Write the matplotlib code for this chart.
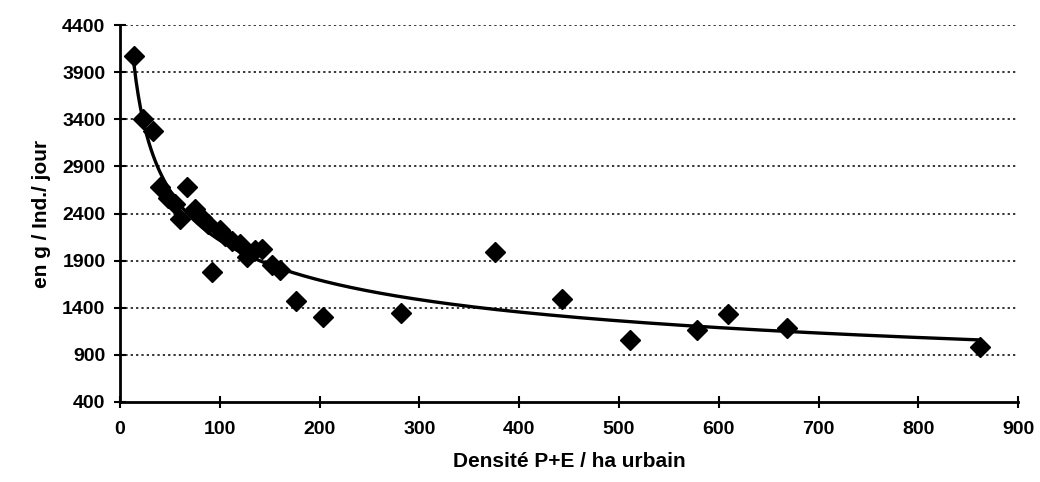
import numpy as np
import matplotlib
matplotlib.use("Agg")
import matplotlib.pyplot as plt

# data
densite = [14, 23, 33, 40, 48, 55, 60, 67, 75, 82, 88, 92, 100, 105, 112, 120,
           127, 135, 142, 152, 160, 176, 203, 282, 376, 443, 511, 578, 609, 668, 862]
dechets = [4070, 3400, 3280, 2680, 2570, 2500, 2340, 2680, 2450, 2350, 2290, 1780,
           2220, 2160, 2110, 2080, 1940, 2010, 2020, 1850, 1800, 1470, 1300, 1340,
           1990, 1490, 1060, 1160, 1330, 1180, 980]
y_ticks = [400, 900, 1400, 1900, 2400, 2900, 3400, 3900, 4400]
x_ticks = [0, 100, 200, 300, 400, 500, 600, 700, 800, 900]

plt.rcParams["font.family"] = ["Liberation Sans", "DejaVu Sans"]

fig = plt.figure(figsize=(10.4, 4.82), dpi=100)
ax = fig.add_axes([0.1154, 0.166, 0.979 - 0.1154, 0.948 - 0.166])

# power trend line (like Excel "puissance"), fitted on the points
b, ln_a = np.polyfit(np.log(densite), np.log(dechets), 1)
xs = np.linspace(min(densite), max(densite), 400)
ax.plot(xs, np.exp(ln_a) * xs ** b, color="black", lw=2.4, zorder=3)

ax.plot(densite, dechets, "D", color="black", markersize=10.5, zorder=4)

ax.set_xlim(0, 900)
ax.set_ylim(400, 4400)
ax.set_xticks(x_ticks)
ax.set_yticks(y_ticks)

for t in y_ticks[1:]:
    ax.axhline(t, color="black", lw=1.1, ls=(0, (1.5, 2)), zorder=1)

for s in ["top", "right"]:
    ax.spines[s].set_visible(False)
ax.spines["left"].set_linewidth(2)
ax.spines["bottom"].set_linewidth(2)

ax.tick_params(axis="both", direction="inout", length=9, width=1.5,
               labelsize=14)
ax.tick_params(axis="x", pad=9)
ax.tick_params(axis="y", pad=6)
for lab in ax.get_xticklabels() + ax.get_yticklabels():
    lab.set_fontweight("bold")

ax.set_xlabel("Densité P+E / ha urbain", fontsize=15, fontweight="bold", labelpad=10)
ax.set_ylabel("en g / Ind./ jour", fontsize=15, fontweight="bold", labelpad=8)

fig.savefig("out.png", dpi=100)
